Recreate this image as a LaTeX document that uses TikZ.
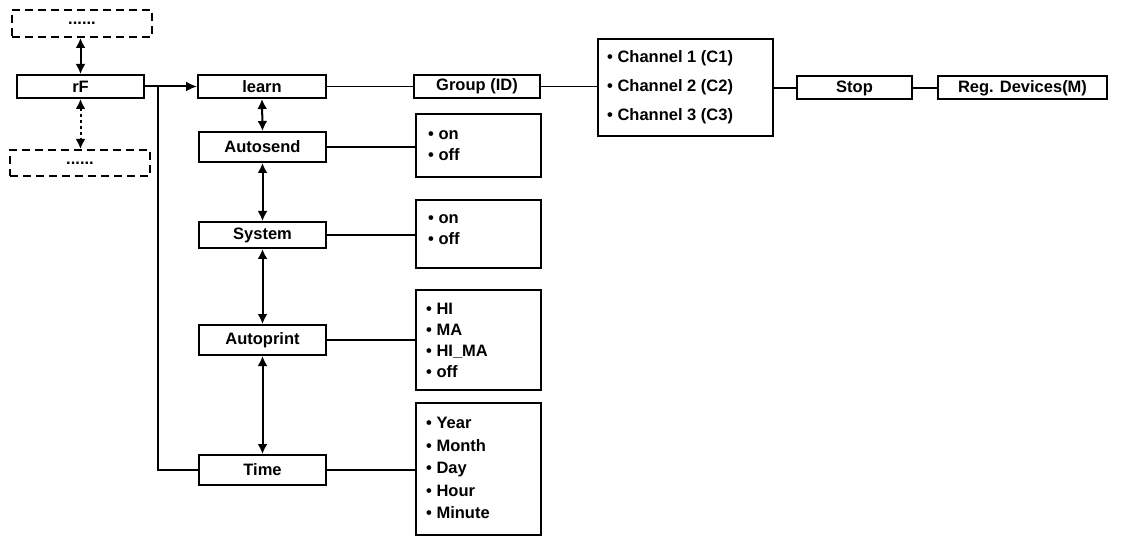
\documentclass[tikz,border=0pt]{standalone}
\usepackage{fontspec}
\setmainfont{Liberation Sans}
\usetikzlibrary{arrows.meta}
\begin{document}
\begin{tikzpicture}[x=1pt,y=-1pt,
 bx/.style={draw,line width=2pt,inner sep=0pt,font=\bfseries\fontsize{16.5}{18}\selectfont},
 dbx/.style={draw,line width=2pt,dash pattern=on 8pt off 5pt,inner sep=0pt,font=\bfseries\fontsize{16.5}{18}\selectfont},
 ln/.style={line width=2pt},
 dar/.style={line width=2pt,{Latex[length=10pt,width=10pt]}-{Latex[length=10pt,width=10pt]}},
 lst/.style={align=left,anchor=west,font=\bfseries\fontsize{16.5}{21}\selectfont,inner sep=0pt}]
\useasboundingbox (0,0) rectangle (1129,537);
\node[dbx,minimum width=140,minimum height=27] (top) at (82,23.5) {......};
\node[dbx,minimum width=140,minimum height=26] (bot) at (80,163) {......};
\node[bx,minimum width=127,minimum height=23] (rf) at (80.5,86.5) {rF};
\node[bx,minimum width=128,minimum height=23] (learn) at (262,86.5) {learn};
\node[bx,minimum width=127,minimum height=30] (auto) at (262.5,147) {Autosend};
\node[bx,minimum width=127,minimum height=26] (sys) at (262.5,235) {System};
\node[bx,minimum width=127,minimum height=30] (ap) at (262.5,340) {Autoprint};
\node[bx,minimum width=127,minimum height=30] (time) at (262.5,470) {Time};
\node[bx,minimum width=126,minimum height=23] (grp) at (477,86.5) {Group (ID)};
\node[bx,minimum width=175,minimum height=97] (ch) at (685.5,87.5) {};
\node[lst,font=\bfseries\fontsize{16.5}{29}\selectfont] at (607,87.5) {• Channel 1 (C1)\\• Channel 2 (C2)\\• Channel 3 (C3)};
\node[bx,minimum width=115,minimum height=23] (stop) at (854.5,88) {Stop};
\node[bx,minimum width=169,minimum height=23] (reg) at (1022.5,88) {Reg. Devices(M)};
\node[bx,minimum width=125,minimum height=63] (b1) at (478.5,145.5) {};
\node[lst] at (428,145.5) {• on\\• off};
\node[bx,minimum width=125,minimum height=68] (b2) at (478.5,234) {};
\node[lst] at (428,230) {• on\\• off};
\node[bx,minimum width=125,minimum height=100] (b3) at (478.5,340) {};
\node[lst] at (426,340) {• HI\\• MA\\• HI\_MA\\• off};
\node[bx,minimum width=125,minimum height=132] (b4) at (478.5,469) {};
\node[lst,font=\bfseries\fontsize{16.5}{22.5}\selectfont] at (426,468) {• Year\\• Month\\• Day\\• Hour\\• Minute};
\coordinate (j) at (158,86.5);
\draw[ln] (rf.east) -- (j);
\draw[ln,-{Latex[length=11pt,width=10pt]}] (j) -- (learn.west);
\draw[ln] (j) |- (time.west);
\draw[dar] (top.south -| rf.north) -- (rf.north);
\draw[dar,dash pattern=on 3pt off 3pt] (rf.south) -- (bot.north -| rf.south);
\draw[dar] (learn.south) -- (auto.north);
\draw[dar] (auto.south) -- (sys.north);
\draw[dar] (sys.south) -- (ap.north);
\draw[dar] (ap.south) -- (time.north);
\draw[ln,line width=1.5pt] (learn.east) -- (grp.west);
\draw[ln,line width=1.5pt] (grp.east) -- (ch.west |- grp.east);
\draw[ln,line width=1.5pt] (ch.east |- stop.west) -- (stop.west);
\draw[ln,line width=1.5pt] (stop.east) -- (reg.west);
\draw[ln] (auto.east) -- (b1.west |- auto.east);
\draw[ln] (sys.east) -- (b2.west |- sys.east);
\draw[ln] (ap.east) -- (b3.west |- ap.east);
\draw[ln] (time.east) -- (b4.west |- time.east);
\end{tikzpicture}
\end{document}
